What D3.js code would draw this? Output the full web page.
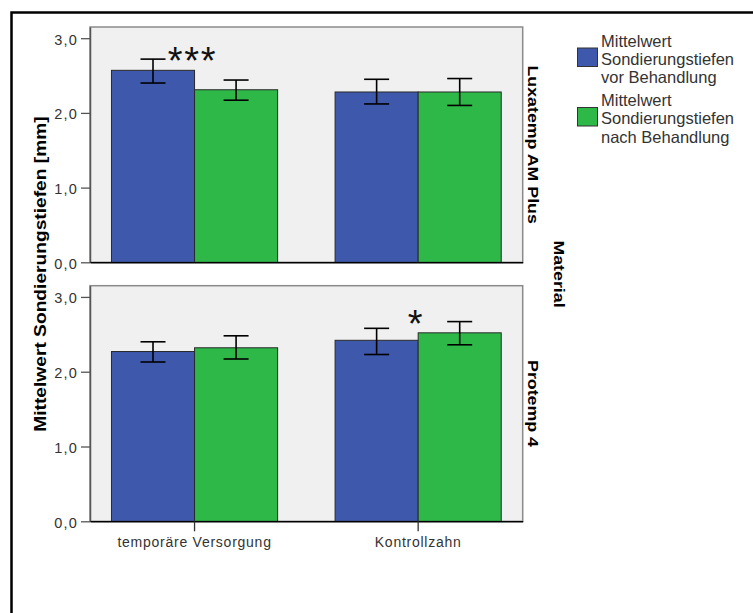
<!DOCTYPE html>
<html>
<head>
<meta charset="utf-8">
<script src="https://cdn.jsdelivr.net/npm/d3@7/dist/d3.min.js"></script>
<style>
  html, body { margin: 0; padding: 0; background: #fff; }
  svg { display: block; }
  text { font-family: "Liberation Sans", Arial, sans-serif; }
</style>
</head>
<body>
<script>
// Panels (one per material), categories on the x axis, two series per category
const materials = ["Luxatemp AM Plus", "Protemp 4"];
const categories = ["temporäre Versorgung", "Kontrollzahn"];
const seriesNames = [
  ["Mittelwert", "Sondierungstiefen", "vor Behandlung"],
  ["Mittelwert", "Sondierungstiefen", "nach Behandlung"]
];
const seriesColors = ["#3e58ac", "#2eb848"];

// Mean probing depth [mm], rows = material, columns = category
const meanBefore = [[2.57, 2.28], [2.27, 2.42]];
const meanAfter  = [[2.31, 2.28], [2.32, 2.52]];
// Error bar bounds
const lowBefore  = [[2.40, 2.12], [2.13, 2.23]];
const highBefore = [[2.72, 2.45], [2.40, 2.58]];
const lowAfter   = [[2.17, 2.10], [2.17, 2.36]];
const highAfter  = [[2.44, 2.46], [2.48, 2.67]];

// Significance markers: material index, category index, label
const sigMaterial = [0, 1];
const sigCategory = [0, 1];
const sigLabel = ["***", "*"];

const yTickValues = [0, 1, 2, 3];
const yTickLabels = ["0,0", "1,0", "2,0", "3,0"];
const yMax = 3.15;

const W = 753, H = 613;
const svg = d3.select("body").append("svg").attr("width", W).attr("height", H);

// outer frame (open at the right and bottom edges)
svg.append("path")
  .attr("d", `M11.5,${H} V12.5 H${W}`)
  .attr("fill", "none").attr("stroke", "#000").attr("stroke-width", 2.5);

const left = 90, right = 522.7;
const panelTop = [27, 285.7], panelBottom = [262.3, 521.3];

const x = d3.scaleBand().domain(categories).range([left, right])
  .paddingInner(0.257).paddingOuter(0.096);
const xs = d3.scaleBand().domain([0, 1]).range([0, x.bandwidth()]);

const means = [meanBefore, meanAfter];
const lows = [lowBefore, lowAfter];
const highs = [highBefore, highAfter];

materials.forEach((mat, m) => {
  const y = d3.scaleLinear().domain([0, yMax]).range([panelBottom[m], panelTop[m]]);
  const g = svg.append("g");

  g.append("rect")
    .attr("x", left).attr("y", panelTop[m])
    .attr("width", right - left).attr("height", panelBottom[m] - panelTop[m])
    .attr("fill", "#f0f0f0").attr("stroke", "#8a8a8a").attr("stroke-width", 1.5);

  // bars
  const rows = [];
  categories.forEach((c, ci) => {
    [0, 1].forEach(s => rows.push({
      c, s, v: means[s][m][ci], lo: lows[s][m][ci], hi: highs[s][m][ci]
    }));
  });

  g.selectAll("rect.bar").data(rows).join("rect")
    .attr("class", "bar")
    .attr("x", d => x(d.c) + xs(d.s))
    .attr("y", d => y(d.v))
    .attr("width", xs.bandwidth())
    .attr("height", d => y(0) - y(d.v))
    .attr("fill", d => seriesColors[d.s])
    .attr("stroke", "#2a2a2a").attr("stroke-width", 1);

  // error bars
  const cap = 12.5;
  const eb = g.selectAll("g.err").data(rows).join("g").attr("class", "err")
    .attr("stroke", "#000").attr("stroke-width", 1.6);
  const cx = d => x(d.c) + xs(d.s) + xs.bandwidth() / 2;
  eb.append("line").attr("x1", cx).attr("x2", cx)
    .attr("y1", d => y(d.lo)).attr("y2", d => y(d.hi));
  eb.append("line").attr("x1", d => cx(d) - cap).attr("x2", d => cx(d) + cap)
    .attr("y1", d => y(d.hi)).attr("y2", d => y(d.hi));
  eb.append("line").attr("x1", d => cx(d) - cap).attr("x2", d => cx(d) + cap)
    .attr("y1", d => y(d.lo)).attr("y2", d => y(d.lo));

  // y axis
  const ya = g.append("g").attr("transform", `translate(${left},0)`)
    .call(d3.axisLeft(y).tickValues(yTickValues)
      .tickFormat((d, i) => yTickLabels[i]).tickSize(9).tickSizeOuter(0).tickPadding(3));
  ya.select(".domain").attr("stroke", "#555").attr("stroke-width", 1.5);
  ya.selectAll(".tick line").attr("stroke", "#555").attr("stroke-width", 1.3);
  ya.selectAll(".tick text")
    .attr("font-family", "Liberation Sans, Arial, sans-serif")
    .attr("font-size", 14.5).attr("letter-spacing", "1.2px")
    .attr("fill", "#333").attr("dy", "0.4em");

  // x baseline (with category ticks and labels on the lowest panel)
  const last = m === materials.length - 1;
  const xa = g.append("g").attr("transform", `translate(0,${panelBottom[m]})`)
    .call(d3.axisBottom(x).tickSize(last ? 10 : 0).tickSizeOuter(0).tickPadding(5.5));
  xa.select(".domain").attr("stroke", "#000").attr("stroke-width", 1.5);
  xa.selectAll(".tick line").attr("stroke", "#333").attr("stroke-width", 1.3);
  xa.selectAll(".tick text")
    .attr("font-family", "Liberation Sans, Arial, sans-serif")
    .attr("font-size", 14).attr("letter-spacing", "0.75px")
    .attr("fill", "#333");
  if (!last) xa.selectAll(".tick text").remove();

  // material label on the right of each panel
  const cy = (panelTop[m] + panelBottom[m]) / 2;
  g.append("text")
    .attr("transform", `translate(527.5,${cy}) rotate(90) scale(1.27,1)`)
    .attr("text-anchor", "middle")
    .attr("font-weight", "bold").attr("font-size", 14).attr("fill", "#000")
    .text(mat);

  // significance markers
  sigMaterial.forEach((sm, k) => {
    if (sm !== m) return;
    const c = categories[sigCategory[k]];
    const top = Math.max(highs[0][m][sigCategory[k]], highs[1][m][sigCategory[k]]);
    const center = x(c) + x.bandwidth() / 2 - 3;
    const chars = sigLabel[k].split("");
    const spacing = 16.5;
    chars.forEach((ch, j) => {
      g.append("text")
        .attr("x", center + (j - (chars.length - 1) / 2) * spacing)
        .attr("y", y(top) + 15)
        .attr("text-anchor", "middle")
        .attr("font-size", 38).attr("fill", "#111")
        .text(ch);
    });
  });
});

// facet title
svg.append("text")
  .attr("transform", `translate(554,274) rotate(90) scale(1.27,1)`)
  .attr("text-anchor", "middle")
  .attr("font-weight", "bold").attr("font-size", 14).attr("fill", "#000")
  .text("Material");

// y axis title
svg.append("text")
  .attr("transform", `translate(46,274) rotate(-90) scale(1.2,1)`)
  .attr("text-anchor", "middle")
  .attr("font-weight", "bold").attr("font-size", 16).attr("fill", "#000")
  .text("Mittelwert Sondierungstiefen [mm]");

// legend
const legY = [48, 107.5];
const lg = svg.append("g");
seriesNames.forEach((lines, s) => {
  lg.append("rect")
    .attr("x", 577.5).attr("y", legY[s]).attr("width", 20).attr("height", 18.5)
    .attr("fill", seriesColors[s]).attr("stroke", "#333").attr("stroke-width", 1);
  lines.forEach((t, j) => {
    lg.append("text")
      .attr("x", 601).attr("y", legY[s] - 1.5 + j * 18.4)
      .attr("font-size", 16.5).attr("fill", "#333")
      .text(t);
  });
});
</script>
</body>
</html>
